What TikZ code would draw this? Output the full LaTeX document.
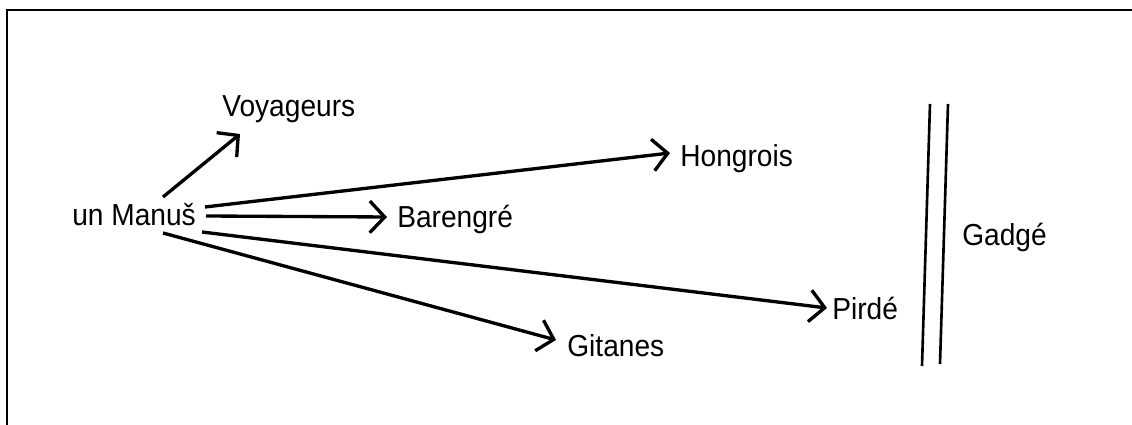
\documentclass[tikz,border=0pt]{standalone}
\usepackage{fontspec}
\setmainfont{Liberation Sans}
\usetikzlibrary{arrows.meta}
\begin{document}
\begin{tikzpicture}[x=0.02cm,y=-0.02cm,
  lbl/.style={inner sep=0pt,anchor=base west,font=\fontsize{16}{19}\selectfont,yscale=1.08},
  arr/.style={line width=1.9pt,-{Straight Barb[length=8.5pt,width=18pt,line width=1.9pt]}},
  bar/.style={line width=1.5pt},
  frame/.style={line width=1.5pt}]
\useasboundingbox (0,0) rectangle (1132,425);
\draw[frame] (7,425) -- (7,10) -- (1132,10);
% labels
\node[lbl] (manus) at (72,226) {un Manuš};
\node[lbl] (voy) at (222,117) {Voyageurs};
\node[lbl] (hong) at (680,167) {Hongrois};
\node[lbl] (bar) at (397,228) {Barengré};
\node[lbl] (pirde) at (832,320) {Pirdé};
\node[lbl] (git) at (567,357) {Gitanes};
\node[lbl] (gadge) at (962,246) {Gadgé};
% arrow ends
\coordinate (s1) at (163,197);
\coordinate (s2) at (205,207);
\coordinate (s3) at (206,216);
\coordinate (s4) at (202,232);
\coordinate (s5) at (163,233);
\coordinate (tvoy) at (240,134);
\coordinate (thong) at (670,153);
\coordinate (tbar) at (387,217);
\coordinate (tpir) at (827,308);
\coordinate (tgit) at (556,340);
\draw[arr] (s1) -- (tvoy);
\draw[arr] (s2) -- (thong);
\draw[arr] (s3) -- (tbar);
\draw[arr] (s4) -- (tpir);
\draw[arr] (s5) -- (tgit);
% double bar
\coordinate (b1t) at (930,104);
\coordinate (b1b) at (922,366);
\coordinate (b2t) at (948,104);
\coordinate (b2b) at (940,364);
\draw[bar] (b1t) -- (b1b);
\draw[bar] (b2t) -- (b2b);
\end{tikzpicture}
\end{document}
